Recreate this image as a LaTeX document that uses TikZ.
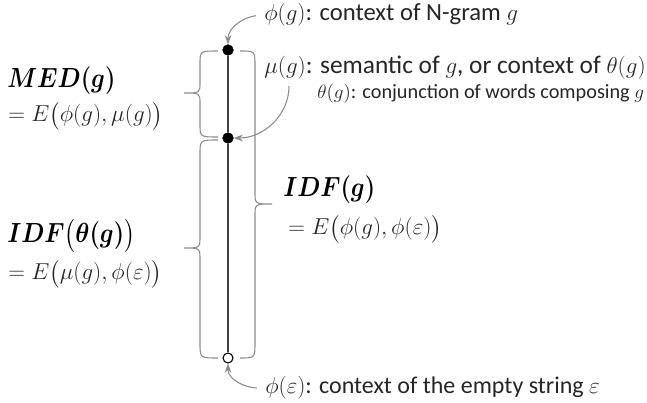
\documentclass[tikz,border=0pt]{standalone}
\usepackage{fontspec}
\setmainfont{Carlito}
\usepackage{amsmath}
\usepackage{bm}
\usetikzlibrary{arrows.meta}
\definecolor{txt}{HTML}{262626}
\definecolor{brc}{HTML}{8C8C8C}
\definecolor{axis}{HTML}{404040}
\newcommand{\narrow}[1]{\scalebox{0.86}[1]{#1}}
\tikzset{
  dot/.style={circle,fill=black,draw=black,inner sep=0pt,minimum size=8pt},
  hollow/.style={circle,fill=white,draw=black,line width=0.8pt,inner sep=0pt,minimum size=7.5pt},
  lbl/.style={anchor=west,inner sep=0pt,text=txt},
  big/.style={anchor=west,inner sep=0pt,text=black,font=\fontsize{21.5}{24}\selectfont},
  eqn/.style={anchor=west,inner sep=0pt,text=txt,font=\fontsize{18.5}{20}\selectfont},
  brace/.style={draw=brc,line width=0.8pt},
  pointer/.style={draw=brc,line width=0.8pt,-{Stealth[length=7pt,width=5pt]}}
}
\begin{document}
\begin{tikzpicture}[x=0.75pt,y=-0.75pt]
\useasboundingbox (0,0) rectangle (647,403);
% axis points
\node[dot] (top) at (228,50) {};
\node[dot] (mid) at (228,138) {};
\node[hollow] (bot) at (228,358) {};
\draw[axis,line width=1.1pt] (top) -- (mid) -- (bot);

% braces
% left upper
\draw[brace] (218,51) .. controls (200,51) .. (200,64) -- (200,82)
  .. controls (200,93) .. (184,93) .. controls (200,93) .. (200,104)
  -- (200,124) .. controls (200,137) .. (218,137);
% left lower
\draw[brace] (218,140) .. controls (200,140) .. (200,154) -- (200,236)
  .. controls (200,248) .. (184,248) .. controls (200,248) .. (200,260)
  -- (200,343) .. controls (200,358) .. (218,358);
% right
\draw[brace] (240,51) .. controls (255,51) .. (255,66) -- (255,192)
  .. controls (255,204) .. (272,204) .. controls (255,204) .. (255,216)
  -- (255,342) .. controls (255,358) .. (240,358);

% labels
\node[lbl,font=\fontsize{18.5}{20}\selectfont] (phig) at (264,15) {$\phi(g)$: context of N-gram $g$};
\node[lbl,font=\fontsize{19}{21}\selectfont] (mug) at (264,68) {$\mu(g)$: semantic of $g$, or context of $\theta(g)$};
\node[lbl,font=\fontsize{15.2}{17}\selectfont] (thetag) at (317,94) {$\theta(g)$: conjunction of words composing $g$};
\node[lbl,font=\fontsize{18}{20}\selectfont] (phie) at (265,388) {$\phi(\varepsilon)$: context of the empty string $\varepsilon$};

\node[big] (med) at (7,81) {\narrow{$\bm{MED(g)}$}};
\node[eqn] (medeq) at (8,116) {$=E\bigl(\phi(g),\mu(g)\bigr)$};
\node[big] (idft) at (7,236) {\narrow{$\bm{IDF\bigl(\theta(g)\bigr)}$}};
\node[eqn] (idfteq) at (8,274) {$=E\bigl(\mu(g),\phi(\varepsilon)\bigr)$};
\node[big] (idf) at (283,190) {\narrow{$\bm{IDF(g)}$}};
\node[eqn,font=\fontsize{19}{21}\selectfont] (idfeq) at (288,229) {$=E\bigl(\phi(g),\phi(\varepsilon)\bigr)$};

% pointers
\coordinate (mustart) at (289,86);
\draw[pointer,shorten <=6pt] (phig.west) to[out=185,in=90] (top.north);
\draw[pointer] (mustart) to[out=-90,in=0] (mid.east);
\draw[pointer,shorten <=6pt] (phie.west) to[out=180,in=-90] (bot.south);
\end{tikzpicture}
\end{document}
